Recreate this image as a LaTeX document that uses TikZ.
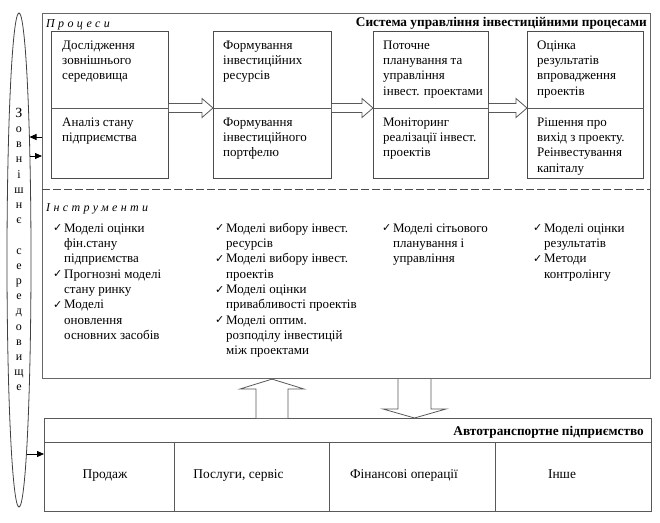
\documentclass[tikz,border=0pt]{standalone}
\usepackage{fontspec}
\setmainfont{Liberation Serif}
\newfontfamily\ckfont{DejaVu Sans}
\usetikzlibrary{arrows.meta,shapes.geometric,calc}
\newcommand\ck{\makebox[11pt][l]{\raisebox{0.3pt}{\ckfont\fontsize{11}{11}\selectfont ✓}}}
\newcommand\ind{\hspace*{11pt}}
\tikzset{
  frame/.style={draw=black!60, line width=1.1pt, fill=white},
  pbox/.style={draw=black!70, line width=0.9pt, fill=white, inner sep=0pt, anchor=north west},
  ebox/.style={draw=black!65, line width=0.9pt, fill=white, inner sep=0pt, anchor=north west},
  divline/.style={draw=black!65, line width=0.9pt},
  txt/.style={font=\fontsize{13}{15.3}\selectfont, align=left, inner sep=0pt, anchor=north west},
  celltxt/.style={font=\fontsize{13.4}{15}\selectfont, inner sep=0pt, anchor=base},
  headtxt/.style={font=\bfseries\fontsize{13.3}{15}\selectfont, inner sep=0pt, anchor=base east},
  sectitle/.style={font=\itshape\fontsize{12}{14}\selectfont\addfontfeatures{LetterSpace=28}, inner sep=0pt, anchor=base west},
  vtxt/.style={font=\fontsize{12}{15.2}\selectfont, align=center, inner sep=0pt, anchor=north},
  hollow/.style={draw=black!65, line width=0.8pt, fill=white},
  tip/.style={draw=black, line width=0.8pt, -{Triangle[length=7pt,width=6pt]}},
  envshape/.style={draw=black!75, line width=0.8pt, ellipse, minimum width=24pt, minimum height=494pt, inner sep=0pt}
}
\begin{document}
\begin{tikzpicture}[x=1pt,y=-1pt]
\useasboundingbox[fill=white] (0,0) rectangle (660,522);

% environment ellipse
\node[envshape] (env) at (19,260) {};
\node[vtxt] (envlabel) at (19,106.4) {\strut{\fontsize{14}{15.2}\selectfont З}\\о\\в\\н\\і\\ш\\н\\є\\[15.2pt]с\\е\\р\\е\\д\\о\\в\\и\\щ\\е};

% outer system frame
\node[frame, minimum width=608pt, minimum height=365pt, inner sep=0pt, anchor=north west] (sys) at (42,13) {};
\draw[draw=black!70, line width=0.9pt, dash pattern=on 7.5pt off 3.5pt] (42,189) -- (650,189);

\node[sectitle] (proc) at (46,27) {Процеси};
\node[headtxt] (systitle) at (647,26.5) {Система управління інвестиційними процесами};

% process boxes
\node[pbox, minimum width=117pt, minimum height=147pt] (p1) at (51,31) {};
\node[pbox, minimum width=118pt, minimum height=147pt] (p2) at (213,31) {};
\node[pbox, minimum width=115pt, minimum height=147pt] (p3) at (373,31) {};
\node[pbox, minimum width=116pt, minimum height=147pt] (p4) at (527,31) {};
\foreach \b in {p1,p2,p3,p4}{
  \draw[divline] (\b.west |- 0,108) -- (\b.east |- 0,108);
}

\node[txt] (t1a) at (62,38.3) {\strut Дослідження\\зовнішнього\\середовища};
\node[txt] (t1b) at (62,115.3) {\strut Аналіз стану\\підприємства};
\node[txt] (t2a) at (223,38.3) {\strut Формування\\інвестиційних\\ресурсів};
\node[txt] (t2b) at (223,115.3) {\strut Формування\\інвестиційного\\портфелю};
\node[txt] (t3a) at (383,38.3) {\strut Поточне\\планування та\\управління\\інвест. проектами};
\node[txt] (t3b) at (383,115.3) {\strut Моніторинг\\реалізації інвест.\\проектів};
\node[txt] (t4a) at (537,38.3) {\strut Оцінка\\результатів\\впровадження\\проектів};
\node[txt] (t4b) at (537,115.3) {\strut Рішення про\\вихід з проекту.\\Реінвестування\\капіталу};

% hollow arrows between process boxes
\foreach \a/\b in {p1/p2,p2/p3,p3/p4}{
  \draw[hollow] (\a.east |- 0,103.5) -- ($(\b.west |- 0,103.5)+(-11,0)$) -- ($(\b.west |- 0,98.5)+(-11,0)$)
     -- (\b.west |- 0,108) -- ($(\b.west |- 0,117.5)+(-11,0)$) -- ($(\b.west |- 0,112.5)+(-11,0)$) -- (\a.east |- 0,112.5);
}

% instruments
\node[sectitle] (instr) at (46,211) {Інструменти};
\node[txt] (c1) at (53,221.3) {\strut\ck Моделі оцінки\\\ind фін.стану\\\ind підприємства\\\ck Прогнозні моделі\\\ind стану ринку\\\ck Моделі\\\ind оновлення\\\ind основних засобів};
\node[txt] (c2) at (215,221.3) {\strut\ck Моделі вибору інвест.\\\ind ресурсів\\\ck Моделі вибору інвест.\\\ind проектів\\\ck Моделі оцінки\\\ind привабливості проектів\\\ck Моделі оптим.\\\ind розподілу інвестицій\\\ind між проектами};
\node[txt] (c3) at (382,221.3) {\strut\ck Моделі сітьового\\\ind планування і\\\ind управління};
\node[txt] (c4) at (533,221.3) {\strut\ck Моделі оцінки\\\ind результатів\\\ck Методи\\\ind контролінгу};

% enterprise box
\node[ebox, minimum width=607pt, minimum height=93pt] (ent) at (44,418) {};
\draw[divline] (ent.west |- 0,442) -- (ent.east |- 0,442);
\foreach \x in {174,329,495}{
  \draw[divline] (\x,442) -- (\x,0 |- ent.south);
}
\node[headtxt] (enttitle) at (644,435.5) {Автотранспортне підприємство};
\node[celltxt] (e1) at (105,478) {Продаж};
\node[celltxt] (e2) at (238.5,478) {Послуги, сервіс};
\node[celltxt] (e3) at (404,478) {Фінансові операції};
\node[celltxt] (e4) at (562,478) {Інше};

% vertical hollow arrows
\draw[hollow] (256,0 |- ent.north) -- (256,389) -- (240,389) -- (272,0 |- sys.south) -- (304,389) -- (288,389) -- (288,0 |- ent.north);
\draw[hollow] (398,0 |- sys.south) -- (398,409) -- (383,409) -- (414.5,0 |- ent.north) -- (446,409) -- (431,409) -- (431,0 |- sys.south);

% small arrows to / from environment
\coordinate (envA) at (29.5,137);
\coordinate (envB) at (29.8,156);
\coordinate (envC) at (26.5,454);
\draw[tip] (sys.west |- envA) -- (envA);
\draw[tip] (envB) -- (sys.west |- envB);
\draw[tip] (envC) -- (ent.west |- envC);
\end{tikzpicture}
\end{document}
